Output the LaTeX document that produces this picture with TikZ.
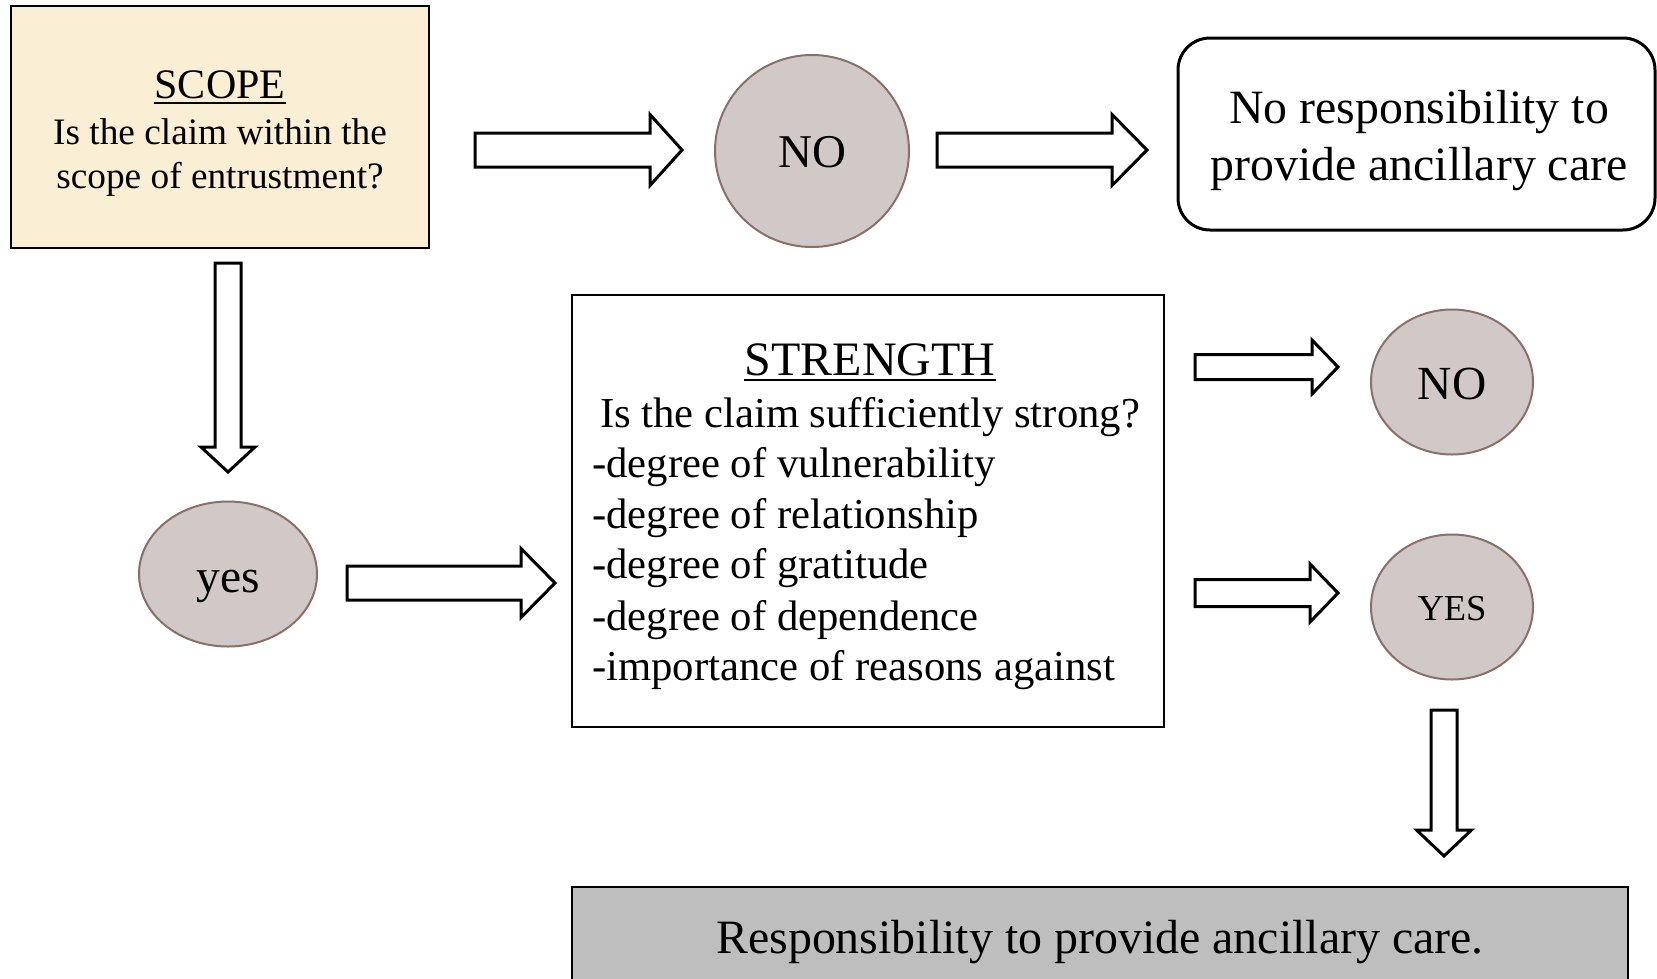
\documentclass[tikz,border=0pt]{standalone}
\usepackage{fontspec}
\setmainfont{Liberation Serif}
\usetikzlibrary{shapes.geometric}
\definecolor{parch}{RGB}{250,239,212}
\definecolor{bub}{RGB}{209,201,200}
\definecolor{bubline}{RGB}{138,112,104}
\definecolor{resgray}{RGB}{190,190,190}
\newcommand{\fsz}[1]{\fontsize{#1}{#1}\selectfont}
% right block arrow: x1 (tail), x2 (head base), x3 (tip), y (centre), shaft half, head half
\newcommand{\rarr}[6]{%
  \draw[blockarrow] (#1,{#4-#5}) -- (#2,{#4-#5}) -- (#2,{#4-#6}) -- (#3,#4) -- (#2,{#4+#6}) -- (#2,{#4+#5}) -- (#1,{#4+#5}) -- cycle;}
% down block arrow: y1 (tail), y2 (head base), y3 (tip), x (centre), shaft half, head half
\newcommand{\darr}[6]{%
  \draw[blockarrow] ({#4-#5},#1) -- ({#4-#5},#2) -- ({#4-#6},#2) -- (#4,#3) -- ({#4+#6},#2) -- ({#4+#5},#2) -- ({#4+#5},#1) -- cycle;}
\begin{document}
\begin{tikzpicture}[x=1pt,y=-1pt,
  blockarrow/.style={draw=black,fill=white,line width=3pt,line join=miter},
  txt/.style={inner sep=0pt,anchor=base},
  ltxt/.style={inner sep=0pt,anchor=base west},
  bubble/.style={ellipse,draw=bubline,fill=bub,line width=2pt,inner sep=0pt},
  ulin/.style={line width=2.2pt}]
\clip (0,0) rectangle (1657,978);
\fill[white] (0,0) rectangle (1657,978);

% boxes
\node[draw,fill=parch,line width=2.5pt,minimum width=418pt,minimum height=242pt,inner sep=0pt] (scope) at (220,127) {};
\node[draw,rounded corners=32pt,line width=3pt,minimum width=477pt,minimum height=192pt,inner sep=0pt] (nores) at (1416.5,134) {};
\node[draw,line width=2pt,minimum width=592pt,minimum height=432pt,inner sep=0pt] (strength) at (868,511) {};
\node[draw,fill=resgray,line width=2.5pt,minimum width=1056pt,minimum height=113pt,inner sep=0pt] (res) at (1100,943.5) {};

% bubbles
\node[bubble,minimum width=194pt,minimum height=192pt] (no1) at (812,151) {};
\node[bubble,minimum width=162pt,minimum height=145pt] (no2) at (1452,382) {};
\node[bubble,minimum width=162pt,minimum height=145pt] (yes2) at (1452,607) {};
\node[bubble,minimum width=178pt,minimum height=145pt] (yes1) at (228,574) {};

% texts
\node[txt,font=\fsz{42}] (scopeT) at (220,98) {SCOPE};
\draw[ulin] ([yshift=-5pt]scopeT.base west) -- ([yshift=-5pt]scopeT.base east);
\node[txt,font=\fsz{37.3}] (scope1) at (220,144) {Is the claim within the};
\node[txt,font=\fsz{37.3}] (scope2) at (220,188) {scope of entrustment?};

\node[txt,font=\fsz{47}] (no1t) at (812,167) {NO};
\node[txt,font=\fsz{47.8}] (nr1) at (1419,123) {No responsibility to};
\node[txt,font=\fsz{47.8}] (nr2) at (1419,180) {provide ancillary care};

\node[txt,font=\fsz{48}] (strT) at (870,375) {STRENGTH};
\draw[ulin] ([yshift=-5pt]strT.base west) -- ([yshift=-5pt]strT.base east);
\node[txt,font=\fsz{42.7}] (str1) at (870,427) {Is the claim sufficiently strong?};
\node[ltxt,font=\fsz{42.7}] (l1) at (592,477) {-degree of vulnerability};
\node[ltxt,font=\fsz{42.7}] (l2) at (592,528) {-degree of relationship};
\node[ltxt,font=\fsz{42.7}] (l3) at (592,578) {-degree of gratitude};
\node[ltxt,font=\fsz{42.7}] (l4) at (592,630) {-degree of dependence};
\node[ltxt,font=\fsz{42.7}] (l5) at (592,680) {-importance of reasons against};

\node[txt,font=\fsz{47.5}] (no2t) at (1452,399) {NO};
\node[txt,font=\fsz{36.5}] (yes2t) at (1452,620) {YES};
\node[txt,font=\fsz{47.5}] (yes1t) at (228,592) {yes};

\node[txt,font=\fsz{47.9}] (rest) at (1100,953) {Responsibility to provide ancillary care.};

% block arrows
\rarr{475}{650}{682}{150}{17}{35.5}
\rarr{937}{1112}{1147}{150}{17}{35.5}
\rarr{1195}{1312}{1338}{367}{12.5}{27}
\rarr{1195}{1310}{1338}{593}{13.5}{29}
\rarr{347}{521}{555}{583}{17}{34.5}
\darr{263}{447}{472}{228}{13}{27}
\darr{710}{830}{856}{1444}{13}{27.5}
\end{tikzpicture}
\end{document}
